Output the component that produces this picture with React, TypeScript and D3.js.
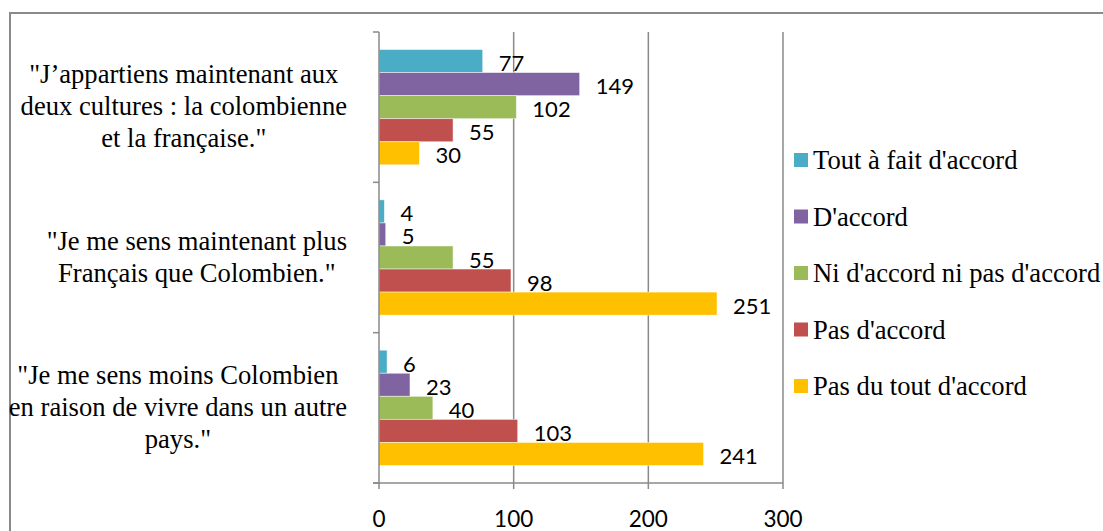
import React, { useEffect, useRef } from "react";
import * as d3 from "d3";

const categories: string[][] = [
  ["\"J\u2019appartiens maintenant aux", "deux cultures : la colombienne", "et la française.\""],
  ["\"Je me sens maintenant plus", "Français que Colombien.\""],
  ["\"Je me sens moins Colombien", "en raison de vivre dans un autre", "pays.\""],
];
const seriesNames = [
  "Tout à fait d'accord",
  "D'accord",
  "Ni d'accord ni pas d'accord",
  "Pas d'accord",
  "Pas du tout d'accord",
];
const seriesColors = ["#4BACC6", "#8064A2", "#9BBB59", "#C0504D", "#FFC000"];
const toutAFait = [77, 4, 6];
const dAccord = [149, 5, 23];
const niNi = [102, 55, 40];
const pasDAccord = [55, 98, 103];
const pasDuTout = [30, 251, 241];
const xTicks = [0, 100, 200, 300];

const W = 1103;
const H = 531;

export default function App() {
  const ref = useRef<SVGSVGElement>(null);
  useEffect(() => {
    const svg = d3.select(ref.current);
    svg.selectAll("*").remove();
    const values = [toutAFait, dAccord, niNi, pasDAccord, pasDuTout];
    const grid = "#8a8a8a";
    const serif = "'Liberation Serif', 'Times New Roman', serif";
    const sans = "Lato, 'Open Sans', sans-serif";

    // outer border
    svg.append("rect").attr("x", 10).attr("y", 13).attr("width", W + 20).attr("height", H + 20)
      .attr("fill", "white").attr("stroke", grid).attr("stroke-width", 2);

    const x = d3.scaleLinear().domain([0, 300]).range([379, 783]);
    const y = d3.scaleBand<number>().domain(d3.range(categories.length)).range([32, 483]);
    const inner = d3.scaleBand<number>().domain(d3.range(seriesNames.length))
      .range([0, y.bandwidth()]).paddingOuter(0.76).paddingInner(0);

    // grid lines
    svg.selectAll(".grid").data(xTicks.slice(1)).enter().append("line")
      .attr("x1", (d) => x(d)).attr("x2", (d) => x(d)).attr("y1", 32).attr("y2", 483)
      .attr("stroke", grid).attr("stroke-width", 1.5);

    // bars
    values.forEach((vals, s) => {
      svg.selectAll(".b" + s).data(vals).enter().append("rect")
        .attr("x", x(0)).attr("y", (_d, i) => (y(i) as number) + (inner(s) as number))
        .attr("width", (d) => x(d) - x(0)).attr("height", inner.bandwidth())
        .attr("fill", seriesColors[s]).attr("stroke", "rgba(255,255,255,0.6)").attr("stroke-width", 0.8);
      svg.selectAll(".l" + s).data(vals).enter().append("text")
        .attr("x", (d) => x(d) + 16)
        .attr("y", (_d, i) => (y(i) as number) + (inner(s) as number) + inner.bandwidth() / 2 + 10)
        .attr("font-family", sans).attr("font-size", 22).attr("fill", "#000")
        .text((d) => String(d));
    });

    // axes
    svg.append("line").attr("x1", x(0)).attr("x2", x(0)).attr("y1", 32).attr("y2", 483)
      .attr("stroke", grid).attr("stroke-width", 1.5);
    const bounds = [32, ...categories.map((_c, i) => (y(i) as number) + y.bandwidth())];
    svg.selectAll(".yt").data(bounds).enter().append("line")
      .attr("x1", x(0) - 6).attr("x2", x(0)).attr("y1", (d) => d).attr("y2", (d) => d)
      .attr("stroke", grid).attr("stroke-width", 1.5);
    svg.append("line").attr("x1", x(0) - 6).attr("x2", x(300)).attr("y1", 483).attr("y2", 483)
      .attr("stroke", grid).attr("stroke-width", 1.5);
    svg.selectAll(".xt").data(xTicks).enter().append("line")
      .attr("x1", (d) => x(d)).attr("x2", (d) => x(d)).attr("y1", 483).attr("y2", 489)
      .attr("stroke", grid).attr("stroke-width", 1.5);
    svg.selectAll(".xl").data(xTicks).enter().append("text")
      .attr("x", (d) => x(d)).attr("y", 527).attr("text-anchor", "middle")
      .attr("font-family", sans).attr("font-size", 22.5).attr("fill", "#000")
      .text((d) => String(d));

    // category labels
    const lineH = 32;
    categories.forEach((lines, i) => {
      const cy = (y(i) as number) + y.bandwidth() / 2;
      const g = svg.append("g");
      const texts = lines.map((ln, k) =>
        g.append("text")
          .attr("y", cy + (k - (lines.length - 1) / 2) * lineH + 8)
          .attr("text-anchor", "middle")
          .attr("font-family", serif)
          .attr("font-size", 26.6).attr("fill", "#000").text(ln)
      );
      const maxW = d3.max(texts, (t) => (t.node() as SVGTextElement).getComputedTextLength()) || 0;
      const cx = 347 - maxW / 2;
      texts.forEach((t) => t.attr("x", cx));
    });

    // legend
    seriesNames.forEach((name, s) => {
      const base = 169 + s * 56.5;
      svg.append("rect").attr("x", 794).attr("y", base - 16).attr("width", 14).attr("height", 14)
        .attr("fill", seriesColors[s]);
      svg.append("text").attr("x", 813).attr("y", base)
        .attr("font-family", serif)
        .attr("font-size", 26.6).attr("fill", "#000").text(name);
    });
  }, []);
  return (
    <svg ref={ref} width={W} height={H}
      style={{ position: "absolute", left: 0, top: 0, background: "white" }} />
  );
}
